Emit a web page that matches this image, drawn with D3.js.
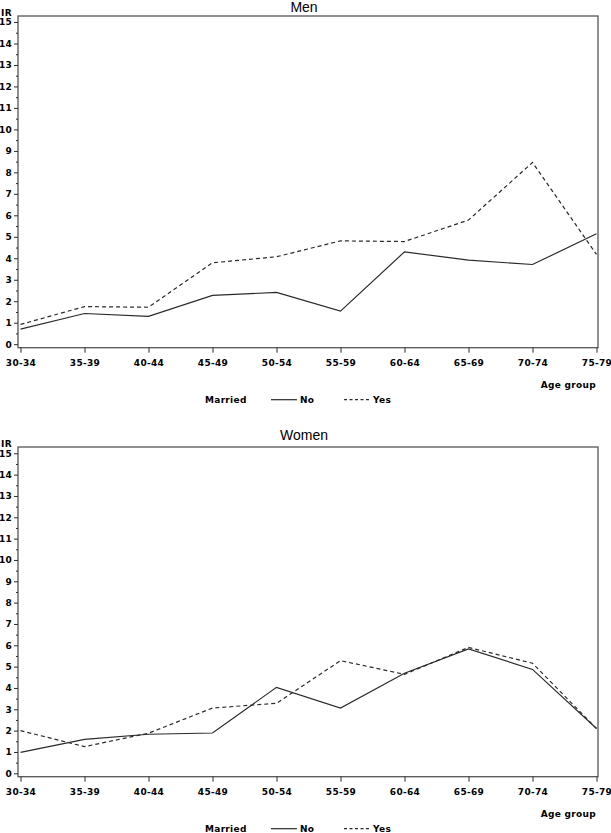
<!DOCTYPE html>
<html>
<head>
<meta charset="utf-8">
<script src="https://cdn.jsdelivr.net/npm/d3@7"></script>
<style>
  html, body { margin: 0; padding: 0; background: #fff; }
  svg { display: block; }
  .lbl { font-family: "DejaVu Sans", sans-serif; font-weight: bold; font-size: 9px; letter-spacing: 0.3px; fill: #000; }
  .title { font-family: "Liberation Sans", Arial, sans-serif; font-size: 14px; fill: #000; }
</style>
</head>
<body>
<script>
const categories = ["30-34","35-39","40-44","45-49","50-54","55-59","60-64","65-69","70-74","75-79"];
const menNo    = [0.70, 1.43, 1.30, 2.27, 2.41, 1.54, 4.30, 3.91, 3.71, 5.14];
const menYes   = [0.92, 1.75, 1.72, 3.79, 4.07, 4.81, 4.78, 5.78, 8.46, 4.18];
const womenNo  = [0.98, 1.59, 1.83, 1.89, 4.03, 3.06, 4.69, 5.83, 4.87, 2.10];
const womenYes = [2.00, 1.25, 1.88, 3.06, 3.28, 5.28, 4.64, 5.90, 5.16, 2.10];
const yTicks = d3.range(0, 16);
const yMinorTicks = d3.range(0.5, 15, 1);
const titles = ["Men", "Women"];
const yLabel = "IR";
const xLabel = "Age group";
const legendTitle = "Married";
const legendItems = ["No", "Yes"];

const W = 611, H = 833;
const svg = d3.select("body").append("svg").attr("width", W).attr("height", H);

const panels = [
  { title: titles[0], no: menNo, yes: menYes, top: 16, bottom: 347.7, y0: 344.2, y15: 22, titleY: 12 },
  { title: titles[1], no: womenNo, yes: womenYes, top: 447, bottom: 776.7, y0: 773.3, y15: 453.3, titleY: 440 }
];
const left = 18, right = 598;
const x = d3.scalePoint().domain(categories).range([20.5, 596.5]);
const ink = "#2a2a2a";

panels.forEach(p => {
  const g = svg.append("g");
  const y = d3.scaleLinear().domain([0, 15]).range([p.y0, p.y15]);

  g.append("text").attr("class", "title").attr("x", 304).attr("y", p.titleY)
    .attr("text-anchor", "middle").text(p.title);

  g.append("rect").attr("x", left).attr("y", p.top)
    .attr("width", right - left).attr("height", p.bottom - p.top)
    .attr("fill", "none").attr("stroke", "#555").attr("stroke-width", 1.3);

  const ya = g.append("g").attr("transform", `translate(${left},0)`)
    .call(d3.axisLeft(y).tickValues(yTicks).tickSize(4).tickPadding(2).tickFormat(d3.format("d")));
  ya.select(".domain").remove();
  ya.selectAll("line").attr("stroke", ink);
  ya.selectAll("text").attr("class", "lbl").attr("font-family", null).attr("font-size", null);

  const ym = g.append("g").attr("transform", `translate(${left},0)`)
    .call(d3.axisLeft(y).tickValues(yMinorTicks).tickSize(2).tickFormat(""));
  ym.select(".domain").remove();
  ym.selectAll("line").attr("stroke", ink);

  g.append("text").attr("class", "lbl").attr("x", 1).attr("y", p.top)
    .text(yLabel);

  const xa = g.append("g").attr("transform", `translate(0,${p.bottom})`)
    .call(d3.axisBottom(x).tickSize(5).tickPadding(7));
  xa.select(".domain").remove();
  xa.selectAll("line").attr("stroke", ink);
  xa.selectAll("text").attr("class", "lbl").attr("font-family", null).attr("font-size", null);

  g.append("text").attr("class", "lbl").attr("x", 596).attr("y", p.bottom + 40)
    .attr("text-anchor", "end").text(xLabel);

  const line = d3.line().x((d, i) => x(categories[i])).y(d => y(d));
  g.append("path").datum(p.no).attr("d", line)
    .attr("fill", "none").attr("stroke", ink).attr("stroke-width", 1.2);
  g.append("path").datum(p.yes).attr("d", line)
    .attr("fill", "none").attr("stroke", ink).attr("stroke-width", 1.2)
    .attr("stroke-dasharray", "4,3");

  const ly = p.bottom + 52;
  g.append("text").attr("class", "lbl").attr("x", 205).attr("y", ly + 3).text(legendTitle);
  g.append("line").attr("x1", 271).attr("x2", 297).attr("y1", ly).attr("y2", ly)
    .attr("stroke", ink).attr("stroke-width", 1.2);
  g.append("text").attr("class", "lbl").attr("x", 300).attr("y", ly + 3).text(legendItems[0]);
  g.append("line").attr("x1", 344).attr("x2", 370).attr("y1", ly).attr("y2", ly)
    .attr("stroke", ink).attr("stroke-width", 1.2).attr("stroke-dasharray", "3,2.5");
  g.append("text").attr("class", "lbl").attr("x", 373).attr("y", ly + 3).text(legendItems[1]);
});
</script>
</body>
</html>
